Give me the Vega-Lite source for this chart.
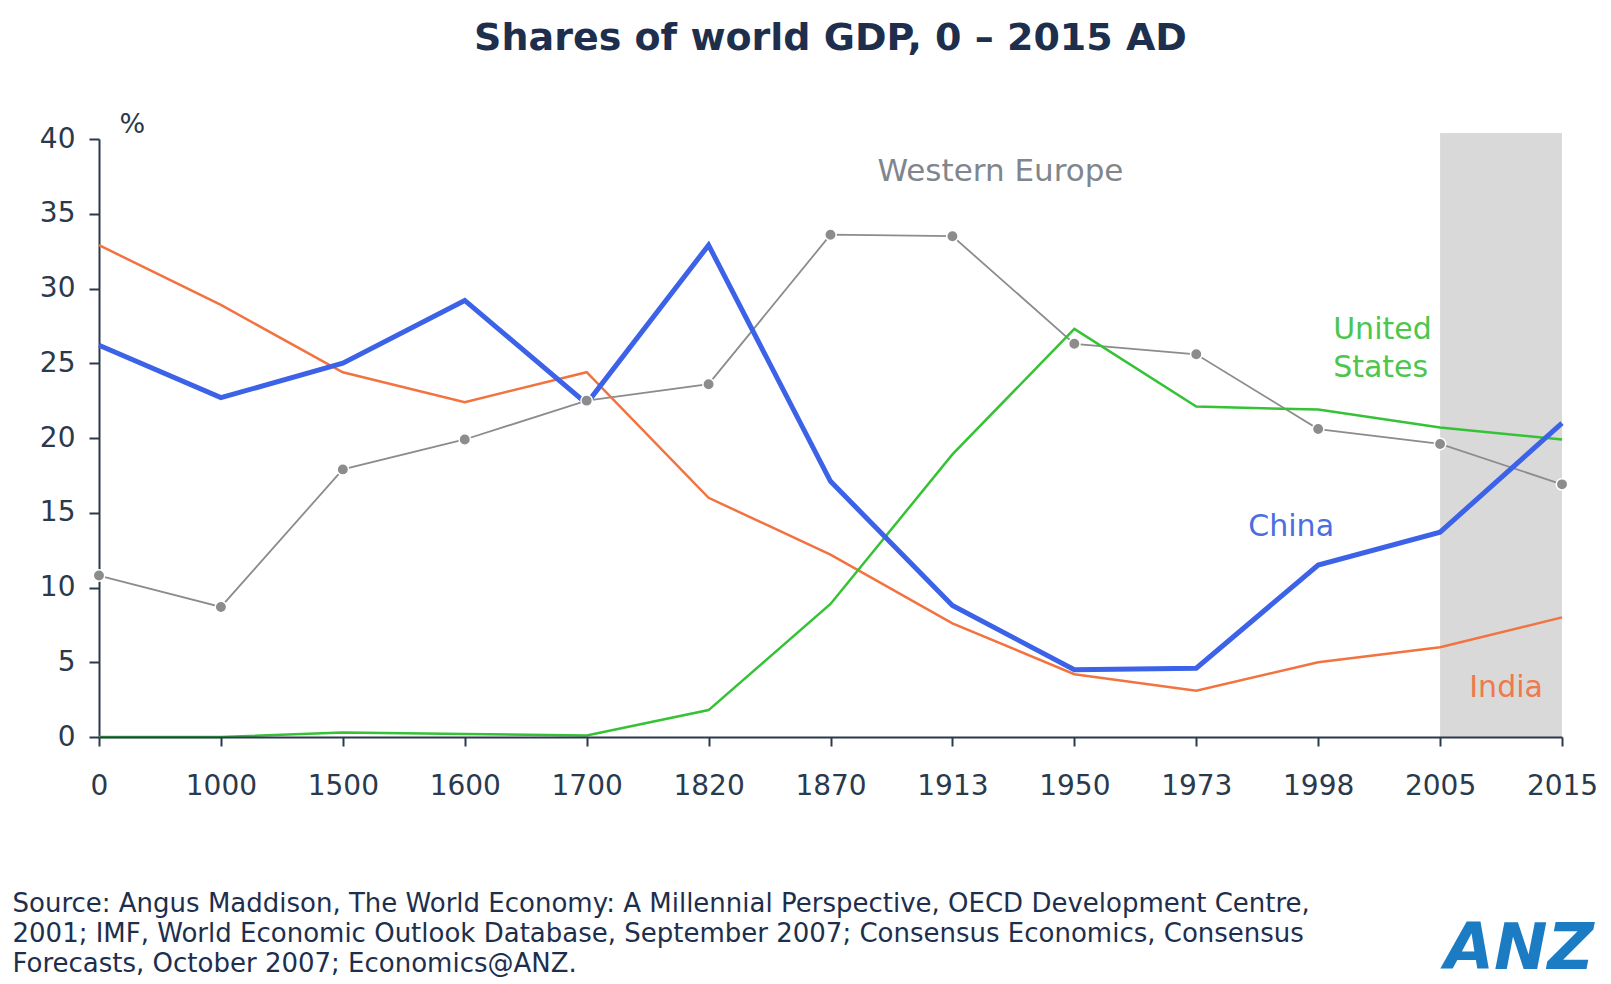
{
  "$schema": "https://vega.github.io/schema/vega-lite/v6.json",
  "width": 1463,
  "height": 598,
  "autosize": "none",
  "padding": {"left": 99, "top": 139, "right": 49, "bottom": 247},
  "background": "white",
  "config": {
    "view": {"stroke": null},
    "font": "DejaVu Sans",
    "axis": {"grid": false, "domainColor": "#2b394c", "domainWidth": 2, "tickColor": "#2b394c", "tickWidth": 2, "labelColor": "#2b394c", "labelFont": "DejaVu Sans", "labelFontSize": 28}
  },
  "title": {
    "text": "Shares of world GDP, 0 – 2015 AD",
    "font": "DejaVu Sans",
    "fontSize": 38,
    "fontWeight": "bold",
    "color": "#1d2f4d",
    "anchor": "middle",
    "frame": "group",
    "baseline": "bottom",
    "offset": 14
  },
  "datasets": {
    "gdp": [
      {"year": "0", "series": "China", "share": 26.2},
      {"year": "1000", "series": "China", "share": 22.7},
      {"year": "1500", "series": "China", "share": 25.0},
      {"year": "1600", "series": "China", "share": 29.2},
      {"year": "1700", "series": "China", "share": 22.3},
      {"year": "1820", "series": "China", "share": 32.9},
      {"year": "1870", "series": "China", "share": 17.1},
      {"year": "1913", "series": "China", "share": 8.8},
      {"year": "1950", "series": "China", "share": 4.5},
      {"year": "1973", "series": "China", "share": 4.6},
      {"year": "1998", "series": "China", "share": 11.5},
      {"year": "2005", "series": "China", "share": 13.7},
      {"year": "2015", "series": "China", "share": 21.0},
      {"year": "0", "series": "India", "share": 32.9},
      {"year": "1000", "series": "India", "share": 28.9},
      {"year": "1500", "series": "India", "share": 24.4},
      {"year": "1600", "series": "India", "share": 22.4},
      {"year": "1700", "series": "India", "share": 24.4},
      {"year": "1820", "series": "India", "share": 16.0},
      {"year": "1870", "series": "India", "share": 12.2},
      {"year": "1913", "series": "India", "share": 7.6},
      {"year": "1950", "series": "India", "share": 4.2},
      {"year": "1973", "series": "India", "share": 3.1},
      {"year": "1998", "series": "India", "share": 5.0},
      {"year": "2005", "series": "India", "share": 6.0},
      {"year": "2015", "series": "India", "share": 8.0},
      {"year": "0", "series": "United States", "share": 0.0},
      {"year": "1000", "series": "United States", "share": 0.0},
      {"year": "1500", "series": "United States", "share": 0.3},
      {"year": "1600", "series": "United States", "share": 0.2},
      {"year": "1700", "series": "United States", "share": 0.1},
      {"year": "1820", "series": "United States", "share": 1.8},
      {"year": "1870", "series": "United States", "share": 8.9},
      {"year": "1913", "series": "United States", "share": 18.9},
      {"year": "1950", "series": "United States", "share": 27.3},
      {"year": "1973", "series": "United States", "share": 22.1},
      {"year": "1998", "series": "United States", "share": 21.9},
      {"year": "2005", "series": "United States", "share": 20.7},
      {"year": "2015", "series": "United States", "share": 19.9},
      {"year": "0", "series": "Western Europe", "share": 10.8},
      {"year": "1000", "series": "Western Europe", "share": 8.7},
      {"year": "1500", "series": "Western Europe", "share": 17.9},
      {"year": "1600", "series": "Western Europe", "share": 19.9},
      {"year": "1700", "series": "Western Europe", "share": 22.5},
      {"year": "1820", "series": "Western Europe", "share": 23.6},
      {"year": "1870", "series": "Western Europe", "share": 33.6},
      {"year": "1913", "series": "Western Europe", "share": 33.5},
      {"year": "1950", "series": "Western Europe", "share": 26.3},
      {"year": "1973", "series": "Western Europe", "share": 25.6},
      {"year": "1998", "series": "Western Europe", "share": 20.6},
      {"year": "2005", "series": "Western Europe", "share": 19.6},
      {"year": "2015", "series": "Western Europe", "share": 16.9}
    ]
  },
  "encoding": {
    "x": {
      "field": "year",
      "type": "nominal",
      "scale": {"type": "point", "padding": 0, "domain": ["0", "1000", "1500", "1600", "1700", "1820", "1870", "1913", "1950", "1973", "1998", "2005", "2015"]},
      "axis": {
        "labelAngle": 0,
        "tickSize": 9,
        "labelPadding": 26,
        "title": [
          "Source: Angus Maddison, The World Economy: A Millennial Perspective, OECD Development Centre,",
          "2001; IMF, World Economic Outlook Database, September 2007; Consensus Economics, Consensus",
          "Forecasts, October 2007; Economics@ANZ."
        ],
        "titleFont": "DejaVu Sans",
        "titleFontSize": 26,
        "titleFontWeight": "normal",
        "titleColor": "#1d2f4d",
        "titleAlign": "left",
        "titleAnchor": "start",
        "titleBaseline": "top",
        "titleX": -87,
        "titleY": 153,
        "titleLineHeight": 30
      }
    },
    "y": {
      "field": "share",
      "type": "quantitative",
      "scale": {"domain": [0, 40], "nice": false, "zero": true},
      "axis": {
        "values": [0, 5, 10, 15, 20, 25, 30, 35, 40],
        "tickSize": 10,
        "labelPadding": 14,
        "title": "%",
        "titleAngle": 0,
        "titleAlign": "left",
        "titleBaseline": "bottom",
        "titleFontSize": 27,
        "titleFontWeight": "normal",
        "titleColor": "#2b394c",
        "titleX": 20,
        "titleY": -1
      }
    }
  },
  "layer": [
    {
      "data": {"values": [{"start": "2005", "end": "2015", "low": 0, "high": 40.4}]},
      "mark": {"type": "rect", "color": "#d9d9d9"},
      "encoding": {
        "x": {"field": "start", "type": "nominal"},
        "x2": {"field": "end"},
        "y": {"field": "low", "type": "quantitative"},
        "y2": {"field": "high"}
      }
    },
    {
      "data": {"name": "gdp"},
      "transform": [{"filter": "datum.series === 'Western Europe'"}],
      "mark": {"type": "line", "color": "#8c8c8c", "strokeWidth": 1.8},
      "encoding": {}
    },
    {
      "data": {"name": "gdp"},
      "transform": [{"filter": "datum.series === 'India'"}],
      "mark": {"type": "line", "color": "#f2733f", "strokeWidth": 2.5},
      "encoding": {}
    },
    {
      "data": {"name": "gdp"},
      "transform": [{"filter": "datum.series === 'United States'"}],
      "mark": {"type": "line", "color": "#35c235", "strokeWidth": 2.5},
      "encoding": {}
    },
    {
      "data": {"name": "gdp"},
      "transform": [{"filter": "datum.series === 'China'"}],
      "mark": {"type": "line", "color": "#3c62e8", "strokeWidth": 5},
      "encoding": {}
    },
    {
      "data": {"name": "gdp"},
      "transform": [{"filter": "datum.series === 'Western Europe'"}],
      "mark": {"type": "point", "filled": true, "color": "#8c8c8c", "opacity": 1, "size": 130, "stroke": "white", "strokeWidth": 1.5},
      "encoding": {}
    },
    {
      "data": {"values": [{"year": "1913", "share": 37.8, "label": "Western Europe"}]},
      "mark": {"type": "text", "color": "#80868e", "fontSize": 31, "align": "center", "baseline": "middle", "dx": 48},
      "encoding": {"text": {"field": "label"}}
    },
    {
      "data": {"values": [{"year": "1998", "share": 27.2, "label": "United"}, {"year": "1998", "share": 24.7, "label": "States"}]},
      "mark": {"type": "text", "color": "#4cc64c", "fontSize": 30, "align": "left", "baseline": "middle", "dx": 15},
      "encoding": {"text": {"field": "label"}}
    },
    {
      "data": {"values": [{"year": "1998", "share": 14.05, "label": "China"}]},
      "mark": {"type": "text", "color": "#4a6ee2", "fontSize": 30, "align": "center", "baseline": "middle", "dx": -27},
      "encoding": {"text": {"field": "label"}}
    },
    {
      "data": {"values": [{"year": "2005", "share": 3.3, "label": "India"}]},
      "mark": {"type": "text", "color": "#ee7a4c", "fontSize": 30, "align": "center", "baseline": "middle", "dx": 66},
      "encoding": {"text": {"field": "label"}}
    },
    {
      "data": {"values": [{"year": "2015", "share": 0, "label": "ANZ"}]},
      "mark": {"type": "text", "color": "#1b7cc4", "fontSize": 64, "fontWeight": "bold", "fontStyle": "italic", "align": "right", "baseline": "alphabetic", "dx": 32, "dy": 232},
      "encoding": {"text": {"field": "label"}}
    }
  ]
}
